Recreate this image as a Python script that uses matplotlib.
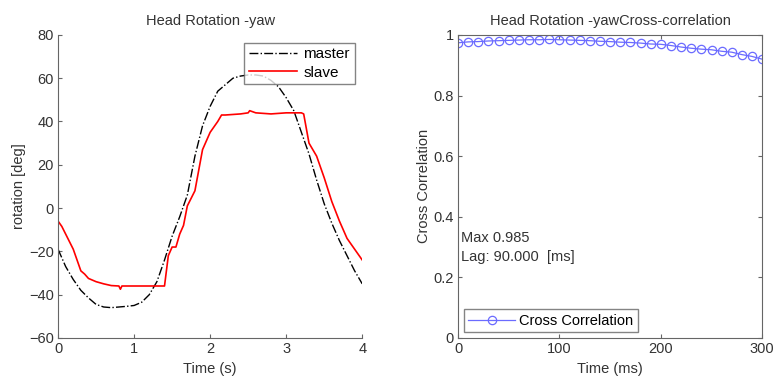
import matplotlib.pyplot as plt

plt.rcParams['font.family'] = ['Liberation Sans', 'DejaVu Sans']

# head yaw, master vs slave
master_t = [0.0, 0.1, 0.2, 0.3, 0.4, 0.5, 0.6, 0.7, 0.8, 0.9, 1.0, 1.1, 1.2, 1.3,
            1.4, 1.5, 1.6, 1.7, 1.8, 1.9, 2.0, 2.1, 2.2, 2.3, 2.4, 2.5, 2.6, 2.7,
            2.8, 2.9, 3.0, 3.1, 3.2, 3.3, 3.4, 3.5, 3.6, 3.7, 3.8, 3.9, 4.0]
master_y = [-19, -27, -33, -38, -41.5, -44.5, -45.7, -46, -45.7, -45.4, -45, -43.5,
            -40, -34, -24, -13, -4, 6, 24, 38, 47, 54, 57, 60, 61, 61.5, 61.5, 61,
            59, 56, 51, 45, 35, 25, 13, 2, -7, -15, -22, -29, -35]

slave_t = [0, 0.05, 0.1, 0.2, 0.3, 0.35, 0.4, 0.5, 0.6, 0.7, 0.8, 0.82, 0.84, 0.9,
           1.0, 1.1, 1.2, 1.3, 1.4, 1.45, 1.5, 1.55, 1.6, 1.65, 1.7, 1.8, 1.9, 2.0,
           2.1, 2.15, 2.2, 2.4, 2.5, 2.52, 2.6, 2.8, 3.0, 3.2, 3.23, 3.3, 3.35, 3.4,
           3.5, 3.6, 3.7, 3.8, 3.9, 4.0]
slave_y = [-6, -8.5, -12, -19, -29, -30.5, -32.5, -34, -35, -35.8, -36, -37.5, -36,
           -36, -36, -36, -36, -36, -36, -22, -18, -18, -12, -8, 1, 8, 27, 35,
           40, 43, 43, 43.5, 44, 45, 44, 43.5, 44, 44, 43.5, 30, 27, 24,
           14, 3, -6, -14, -19, -24]

# cross-correlation vs lag
lag_ms = [-10, 0, 10, 20, 30, 40, 50, 60, 70, 80, 90, 100, 110, 120, 130, 140, 150,
          160, 170, 180, 190, 200, 210, 220, 230, 240, 250, 260, 270, 280, 290, 300]
xcorr = [0.972, 0.974, 0.977, 0.978, 0.980, 0.981, 0.982, 0.983, 0.984, 0.984, 0.985,
         0.984, 0.983, 0.982, 0.981, 0.979, 0.978, 0.976, 0.975, 0.973, 0.970, 0.969,
         0.965, 0.960, 0.956, 0.953, 0.951, 0.946, 0.943, 0.935, 0.929, 0.920]

fig = plt.figure(figsize=(7.78, 3.88), dpi=100)
spine_col = '#666666'
fs = 10.5

ax1 = fig.add_axes([0.0746, 0.129, 0.391, 0.781])
ax1.plot(master_t, master_y, color='black', linestyle='-.', linewidth=1.0, label='master')
ax1.plot(slave_t, slave_y, color='red', linewidth=1.2, label='slave')
ax1.set_xlim(0, 4)
ax1.set_ylim(-60, 80)
ax1.set_xticks([0, 1, 2, 3, 4])
ax1.set_yticks(range(-60, 81, 20))
ax1.spines['top'].set_visible(False)
ax1.spines['right'].set_visible(False)
ax1.set_title('Head Rotation -yaw', fontsize=10.5, pad=7, color='#333333')
ax1.set_xlabel('Time (s)', fontsize=fs, color='#333333')
ax1.set_ylabel('rotation [deg]', fontsize=fs, labelpad=2, color='#333333')
leg1 = ax1.legend(loc='upper right', fontsize=fs + 0.5, handlelength=3.2,
                  fancybox=False, borderaxespad=0.5, handletextpad=0.4,
                  borderpad=0.3, labelspacing=0.3)
leg1.get_frame().set_edgecolor(spine_col)

ax2 = fig.add_axes([0.5887, 0.129, 0.391, 0.781])
ax2.plot(lag_ms, xcorr, color='#6b6bff', linewidth=0.9, marker='o',
         markersize=6, markerfacecolor='none', markeredgewidth=0.9,
         label='Cross Correlation')
ax2.set_xlim(0, 300)
ax2.set_ylim(0, 1)
ax2.set_xticks([0, 100, 200, 300])
ax2.set_yticks([0, 0.2, 0.4, 0.6, 0.8, 1])
ax2.set_yticklabels(['0', '0.2', '0.4', '0.6', '0.8', '1'])
ax2.set_title('Head Rotation -yawCross-correlation', fontsize=10.5, pad=7, color='#333333')
ax2.set_xlabel('Time (ms)', fontsize=fs, color='#333333')
ax2.set_ylabel('Cross Correlation', fontsize=fs, labelpad=2, color='#333333')
ax2.text(3, 0.33, 'Max 0.985', fontsize=fs, va='center', color='#333333')
ax2.text(3, 0.267, 'Lag: 90.000  [ms]', fontsize=fs, va='center', color='#333333')
leg2 = ax2.legend(loc='lower left', fontsize=fs, handlelength=3.2,
                  fancybox=False, borderaxespad=0.4, handletextpad=0.3,
                  borderpad=0.3)
leg2.get_frame().set_edgecolor(spine_col)

for ax in (ax1, ax2):
    for sp in ax.spines.values():
        sp.set_color(spine_col)
    ax.tick_params(direction='in', length=3, labelsize=fs, color=spine_col,
                   labelcolor='#333333', pad=3)
ax2.tick_params(top=True, right=True)

fig.savefig('out.png', dpi=100)
